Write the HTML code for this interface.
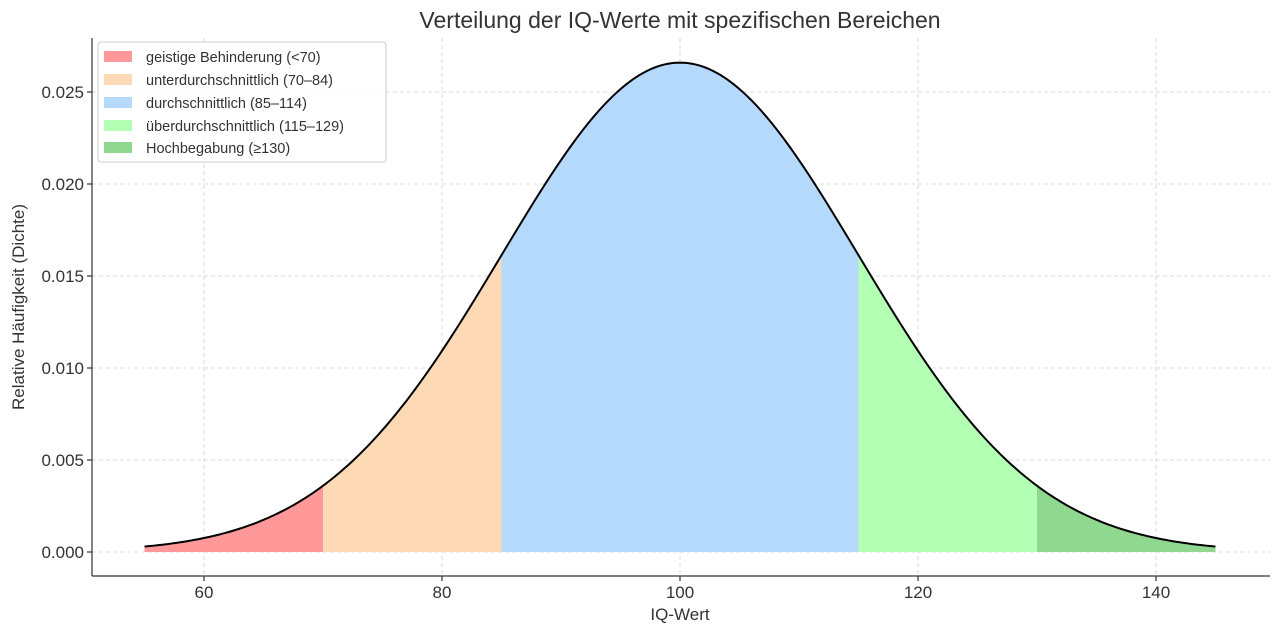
<!DOCTYPE html>
<html><head><meta charset="utf-8"><style>
html,body{margin:0;padding:0;background:#fff;}
svg{display:block;font-family:"Liberation Sans","DejaVu Sans",sans-serif;}
</style></head><body>
<svg id="s" width="1280" height="634" viewBox="0 0 1280 634" xmlns="http://www.w3.org/2000/svg">
<rect width="1280" height="634" fill="#fff"/>
<g id="grid" stroke="#d0d0d0" stroke-width="0.8" stroke-dasharray="4,3">
<line x1="204" y1="38" x2="204" y2="576"/><line x1="442" y1="38" x2="442" y2="576"/>
<line x1="680" y1="38" x2="680" y2="576"/><line x1="918" y1="38" x2="918" y2="576"/>
<line x1="1156" y1="38" x2="1156" y2="576"/>
<line x1="92" y1="552" x2="1270" y2="552"/><line x1="92" y1="460" x2="1270" y2="460"/>
<line x1="92" y1="368" x2="1270" y2="368"/><line x1="92" y1="276" x2="1270" y2="276"/>
<line x1="92" y1="184" x2="1270" y2="184"/><line x1="92" y1="92" x2="1270" y2="92"/>
</g>
<g id="fills"></g>
<path id="curve" fill="none" stroke="#000" stroke-width="2"/>
<g stroke="#333" stroke-width="1.2">
<line x1="92" y1="38" x2="92" y2="576"/><line x1="92" y1="576" x2="1270" y2="576"/>
<line x1="204" y1="576" x2="204" y2="581"/><line x1="442" y1="576" x2="442" y2="581"/>
<line x1="680" y1="576" x2="680" y2="581"/><line x1="918" y1="576" x2="918" y2="581"/>
<line x1="1156" y1="576" x2="1156" y2="581"/>
<line x1="87" y1="552" x2="92" y2="552"/><line x1="87" y1="460" x2="92" y2="460"/>
<line x1="87" y1="368" x2="92" y2="368"/><line x1="87" y1="276" x2="92" y2="276"/>
<line x1="87" y1="184" x2="92" y2="184"/><line x1="87" y1="92" x2="92" y2="92"/>
</g>
<g font-size="17" fill="#333" text-anchor="middle">
<text x="204" y="598">60</text><text x="442" y="598">80</text><text x="680" y="598">100</text>
<text x="918" y="598">120</text><text x="1156" y="598">140</text>
</g>
<g font-size="17" fill="#333" text-anchor="end">
<text x="84" y="558">0.000</text><text x="84" y="466">0.005</text><text x="84" y="374">0.010</text>
<text x="84" y="282">0.015</text><text x="84" y="190">0.020</text><text x="84" y="98">0.025</text>
</g>
<text x="680" y="620" font-size="17" fill="#333" text-anchor="middle">IQ-Wert</text>
<text transform="translate(24,307) rotate(-90)" font-size="17" fill="#333" text-anchor="middle">Relative Häufigkeit (Dichte)</text>
<text x="680" y="28" font-size="23" fill="#333" text-anchor="middle">Verteilung der IQ-Werte mit spezifischen Bereichen</text>
<g>
<rect x="98" y="42" width="288" height="120" rx="3" fill="#fff" fill-opacity="0.85" stroke="#ccc"/>
<rect x="104" y="51" width="28" height="11" fill="#ff9999"/>
<rect x="104" y="74" width="28" height="11" fill="#fdd9b5"/>
<rect x="104" y="97" width="28" height="11" fill="#b5d9fb"/>
<rect x="104" y="120" width="28" height="11" fill="#b3ffb3"/>
<rect x="104" y="142" width="28" height="11" fill="#90d890"/>
<g font-size="14.5" fill="#333">
<text x="146" y="62">geistige Behinderung (&lt;70)</text>
<text x="146" y="85">unterdurchschnittlich (70–84)</text>
<text x="146" y="108">durchschnittlich (85–114)</text>
<text x="146" y="131">überdurchschnittlich (115–129)</text>
<text x="146" y="153">Hochbegabung (≥130)</text>
</g></g>
<script>
(function(){
var NS="http://www.w3.org/2000/svg";
function X(v){return 204+(v-60)*11.9;}
function f(v){return Math.exp(-Math.pow((v-100)/15,2)/2)/(15*Math.sqrt(2*Math.PI));}
function Y(d){return 552-d*18400;}
function pts(a,b){var s=[];for(var v=a;v<=b+1e-9;v+=0.25){s.push(X(v).toFixed(2)+","+Y(f(v)).toFixed(2));}return s;}
document.getElementById("curve").setAttribute("d","M"+pts(55,145).join(" L"));
var regs=[[55,70,"#ff9999"],[70,85,"#fdd9b5"],[85,115,"#b5d9fb"],[115,130,"#b3ffb3"],[130,145,"#90d890"]];
var g=document.getElementById("fills");
regs.forEach(function(r){
var p=document.createElementNS(NS,"path");
p.setAttribute("fill",r[2]);
p.setAttribute("d","M"+X(r[0]).toFixed(2)+",552 L"+pts(r[0],r[1]).join(" L")+" L"+X(r[1]).toFixed(2)+",552 Z");
g.appendChild(p);
});
})();
</script>
</svg>
</body></html>
